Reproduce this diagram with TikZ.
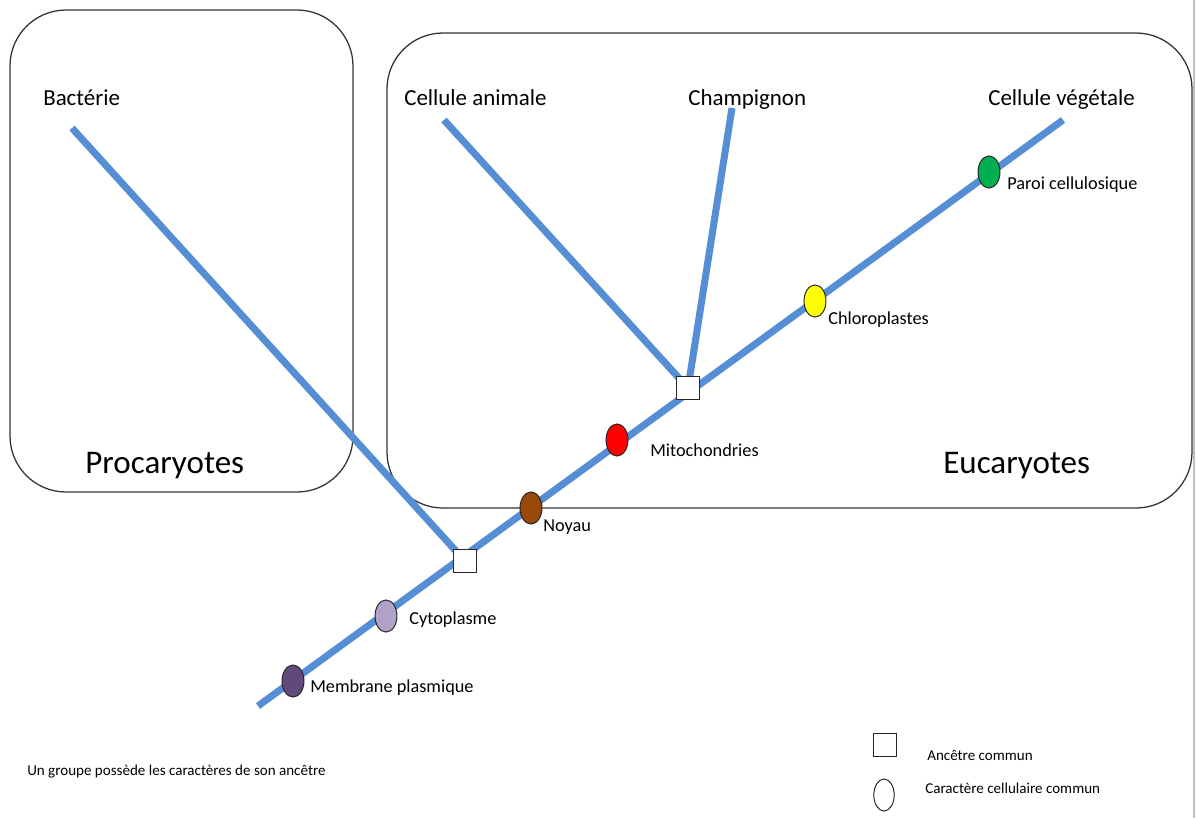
\documentclass[tikz,border=0pt]{standalone}
\usepackage{fontspec}
\setmainfont{Carlito}
\usetikzlibrary{shapes.geometric}
\definecolor{branchblue}{HTML}{558ED5}
\definecolor{cmembrane}{HTML}{604A7B}
\definecolor{ccyto}{HTML}{B3A2C7}
\definecolor{cnoyau}{HTML}{984807}
\definecolor{cmito}{HTML}{FF0000}
\definecolor{cchloro}{HTML}{FFFF00}
\definecolor{cparoi}{HTML}{00B050}
\tikzset{
  groupbox/.style={draw=black!80, line width=0.9pt, rounded corners=1.4cm},
  branch/.style={draw=branchblue, line width=5pt},
  ancestor/.style={draw=black!85, fill=white, line width=0.7pt, minimum size=16.3pt, inner sep=0pt},
  trait/.style={ellipse, draw=black!85, line width=0.7pt, minimum width=15.6pt, minimum height=22.8pt, inner sep=0pt},
  taxon/.style={anchor=west, inner sep=0pt, text height=11pt, text depth=3.5pt, font=\fontsize{16.3}{18}\selectfont},
  group/.style={anchor=west, inner sep=0pt, text height=16pt, text depth=5pt, font=\fontsize{23.5}{26}\selectfont},
  traitlabel/.style={anchor=west, inner sep=0pt, text height=9pt, text depth=3pt, font=\fontsize{13}{15}\selectfont},
  small/.style={anchor=west, inner sep=0pt, text height=7.5pt, text depth=2.5pt, font=\fontsize{10.7}{12}\selectfont}
}
\begin{document}
\begin{tikzpicture}[x=0.025cm, y=-0.025cm]
\useasboundingbox (0,0) rectangle (1196,818);
\fill[white] (0,0) rectangle (1196,818);
\draw[black!25, line width=0.8pt] (1194,0) -- (1194,818);

% group boxes
\draw[groupbox] (10,10) rectangle (353,492);
\draw[groupbox] (387,33) rectangle (1192,508);

% coordinates
\coordinate (root) at (258,706);
\coordinate (tipveg) at (1063,120);
\coordinate (tipbact) at (72,128);
\coordinate (tipanim) at (444,120);
\coordinate (tipchamp) at (732,108);
\coordinate (a1) at (465,561);
\coordinate (a2) at (688,388);

% branches
\draw[branch] (root) -- (tipveg);
\draw[branch] (tipbact) -- (a1);
\draw[branch] (tipanim) -- (a2);
\draw[branch] (tipchamp) -- (a2);

% ancestors
\node[ancestor] (anc1) at (a1) {};
\node[ancestor] (anc2) at (a2) {};

% traits
\node[trait, fill=cmembrane] (membrane) at (293,681) {};
\node[trait, fill=ccyto] (cyto) at (386,616) {};
\node[trait, fill=cnoyau] (noyau) at (531,508) {};
\node[trait, fill=cmito] (mito) at (617,440) {};
\node[trait, fill=cchloro] (chloro) at (815,301) {};
\node[trait, fill=cparoi] (paroi) at (989,172) {};

% trait labels
\node[traitlabel] (lmembrane) at (310,688) {Membrane plasmique};
\node[traitlabel] (lcyto) at (409,620) {Cytoplasme};
\node[traitlabel] (lnoyau) at (543,527) {Noyau};
\node[traitlabel] (lmito) at (650,452) {Mitochondries};
\node[traitlabel] (lchloro) at (828,320) {Chloroplastes};
\node[traitlabel] (lparoi) at (1007,185) {Paroi cellulosique};

% taxa
\node[taxon] (bact) at (43,100) {Bactérie};
\node[taxon] (anim) at (404,100) {Cellule animale};
\node[taxon] (champ) at (688,100) {Champignon};
\node[taxon] (veg) at (988,100) {Cellule végétale};

% groups
\node[group] (proc) at (85,466) {Procaryotes};
\node[group] (euc) at (943,466) {Eucaryotes};

% legend
\node[ancestor] (legsq) at (885,745) {};
\node[small] (legsqt) at (927,757) {Ancêtre commun};
\node[trait, fill=white, minimum width=14.5pt] (legov) at (884,795) {};
\node[small] (legovt) at (925,790) {Caractère cellulaire commun};
\node[small] (note) at (27,772) {Un groupe possède les caractères de son ancêtre};
\end{tikzpicture}
\end{document}
